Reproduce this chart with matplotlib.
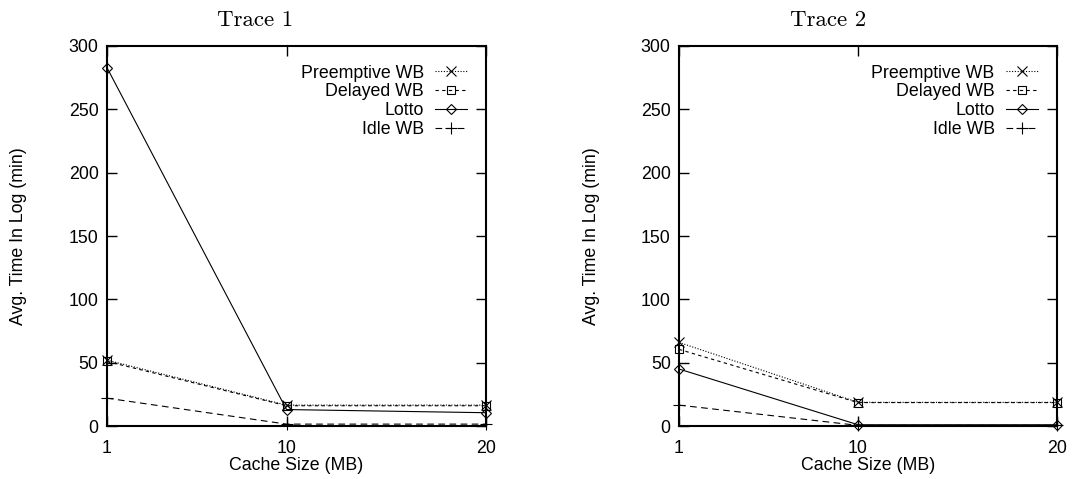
import matplotlib
matplotlib.use("Agg")
from matplotlib import pyplot as plt

# cache sizes (MB)
cache_mb = [1, 10, 20]

# trace 1 values
t1_preempt = [52, 16.5, 16.5]
t1_delayed = [51, 16, 16]
t1_lotto = [283, 13, 10.5]
t1_idle = [22, 1.5, 1.5]

# trace 2 values
t2_preempt = [66, 18.7, 18.7]
t2_delayed = [60.5, 18.5, 18.5]
t2_lotto = [45, 1, 1]
t2_idle = [16.5, 0.5, 0.5]

series_names = ["Preemptive WB", "Delayed WB", "Lotto", "Idle WB"]
titles = ["Trace 1", "Trace 2"]
yticks = [0, 50, 100, 150, 200, 250, 300]

plt.rcParams['font.family'] = ['Liberation Sans', 'DejaVu Sans']
fs = 12.8

fig = plt.figure(figsize=(10.91, 4.79), dpi=100)
ax1 = fig.add_axes([0.098, 0.1106, 0.3475, 0.7934])
ax2 = fig.add_axes([0.6224, 0.1106, 0.3464, 0.7934])

styles = [
    dict(marker="x", linestyle=(0, (1, 1.5)), markersize=7),
    dict(marker="s", linestyle=(0, (3, 3)), markersize=6, mfc="none"),
    dict(marker="D", linestyle="-", markersize=5, mfc="none"),
    dict(marker="+", linestyle=(0, (6, 4)), markersize=8),
]

data = [
    [t1_preempt, t1_delayed, t1_lotto, t1_idle],
    [t2_preempt, t2_delayed, t2_lotto, t2_idle],
]

for ax, vals, title, tx in zip([ax1, ax2], data, titles, [255, 828]):
    for name, v, st in zip(series_names, vals, styles):
        ax.plot(cache_mb, v, color="black", lw=0.8, mew=0.8, clip_on=False,
                label=name, **st)
    ax.set_xlim(1, 20)
    ax.set_ylim(0, 300)
    ax.set_xticks(cache_mb)
    ax.set_yticks(yticks)
    ax.tick_params(direction="in", length=7, width=1, top=True, right=True,
                   labelsize=fs, pad=6)
    ax.tick_params(axis="x", pad=10)
    for sp in ax.spines.values():
        sp.set_linewidth(1.5)
    ax.set_xlabel("Cache Size (MB)", fontsize=fs, labelpad=0)
    ax.set_ylabel("Avg. Time In Log (min)", fontsize=fs)
    ax.yaxis.set_label_coords(-0.21, 0.5)
    ax.legend(loc="upper right", frameon=False, markerfirst=False,
              fontsize=fs, handlelength=1.8, handletextpad=0.65,
              labelspacing=0.1, borderaxespad=0.65, numpoints=1)
    fig.text(tx / 1091, 1 - 20 / 479, title, ha="center", va="center",
             fontsize=16.5, family=["cmr10", "DejaVu Serif"])

plt.savefig("out.png", dpi=100)
